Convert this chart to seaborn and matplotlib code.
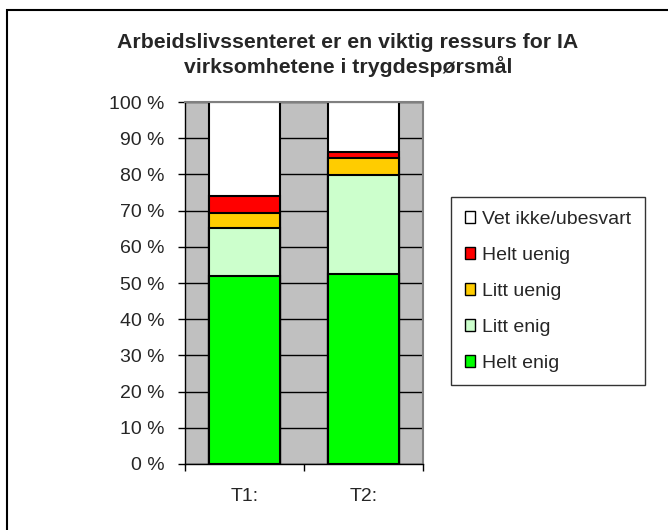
import numpy as np
import pandas as pd
import matplotlib.pyplot as plt
import seaborn as sns
from matplotlib.patches import Patch, Rectangle

periods = ["T1:", "T2:"]
categories = ["Helt enig", "Litt enig", "Litt uenig", "Helt uenig", "Vet ikke/ubesvart"]
helt_enig = [51.9, 52.5]
litt_enig = [13.3, 27.4]
litt_uenig = [4.0, 4.5]
helt_uenig = [4.8, 1.9]
vet_ikke = [26.0, 13.7]
colors = ["#00FF00", "#CCFFCC", "#FFCC00", "#FF0000", "#FFFFFF"]

sns.set_style("white")
plt.rcParams["font.family"] = ["Liberation Sans", "DejaVu Sans"]

fig = plt.figure(figsize=(6.68, 5.30), dpi=100)
ax = fig.add_axes([185 / 668, 1 - 464 / 530, 238 / 668, 362 / 530])
ax.set_facecolor("#C0C0C0")

# stacked bars: draw cumulative totals from the top layer down
layers = np.array([helt_enig, litt_enig, litt_uenig, helt_uenig, vet_ikke])
cum = layers.cumsum(axis=0)
for i in range(len(categories) - 1, -1, -1):
    sns.barplot(x=periods, y=cum[i], color=colors[i], width=0.6,
                edgecolor="black", linewidth=1.5, saturation=1, ax=ax)

ax.set_xlim(-0.5, 1.5)
ax.set_ylim(0, 100)
ax.set_yticks(np.arange(0, 101, 10))
ax.set_yticklabels([f"{v} %" for v in range(0, 101, 10)], fontsize=14)
ax.yaxis.grid(True, color="black", linewidth=1)
ax.set_axisbelow(True)
ax.tick_params(axis="y", direction="out", length=5, width=1, pad=10, color="black", left=True)
ax.set_xticks([0, 1])
ax.set_xticklabels(periods, fontsize=14)
ax.set_xticks([-0.5, 0.5, 1.5], minor=True)
ax.tick_params(axis="x", which="major", length=0, pad=17)
ax.tick_params(axis="x", which="minor", direction="out", length=5, width=1, color="black", bottom=True)
ax.set_xlabel("")
ax.set_ylabel("")
for side in ["left", "bottom"]:
    ax.spines[side].set_color("black")
    ax.spines[side].set_linewidth(1)
for side in ["top", "right"]:
    ax.spines[side].set_color("#808080")
    ax.spines[side].set_linewidth(1.5)

fig.text(348 / 668, 1 - 55 / 530,
         "Arbeidslivssenteret er en viktig ressurs for IA\nvirksomhetene i trygdespørsmål",
         ha="center", va="center", fontsize=15.3, fontweight="bold", linespacing=1.25)

handles = [Patch(facecolor=colors[i], edgecolor="black", linewidth=1, label=categories[i])
           for i in range(len(categories) - 1, -1, -1)]
leg = fig.legend(handles=handles, loc="upper left", bbox_to_anchor=(451 / 668, 1 - 197 / 530),
                 fontsize=14, frameon=True, fancybox=False, labelspacing=0.98,
                 handlelength=0.55, handleheight=0.55, handletextpad=0.35,
                 borderpad=0.7, borderaxespad=0)
leg.get_frame().set_edgecolor("black")
leg.get_frame().set_linewidth(1)

fig.patches.append(Rectangle((7 / 668, -0.05), 1.1, 1 - 10 / 530 + 0.05, transform=fig.transFigure,
                             fill=False, edgecolor="black", linewidth=1.5))

fig.savefig("out.png", dpi=100)
